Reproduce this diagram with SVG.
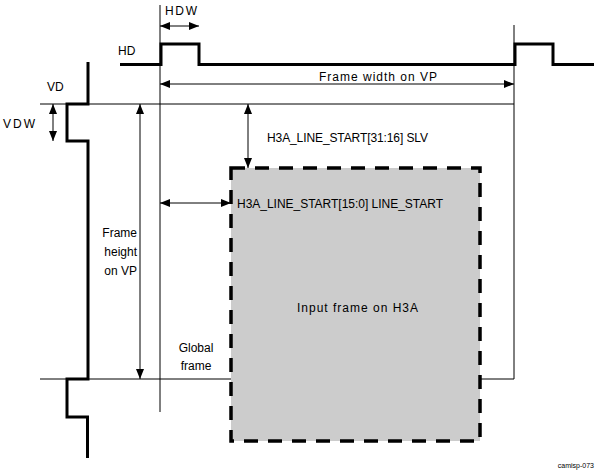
<svg xmlns="http://www.w3.org/2000/svg" width="597" height="473" viewBox="0 0 597 473">
<defs>
<style>
text{font-family:"Liberation Sans",Arial,sans-serif;font-size:12px;fill:#000}
.thin{stroke:#000;stroke-width:1;fill:none}
.sig{stroke:#000;stroke-width:3;fill:none;stroke-linejoin:miter}
.dim{stroke:#000;stroke-width:1;fill:none;marker-start:url(#ah);marker-end:url(#ah)}
.box{fill:#cccccc;stroke:#000;stroke-width:3.5;stroke-dasharray:14 10}
</style>
<marker id="ah" viewBox="0 0 10 8" refX="10" refY="4" markerWidth="10" markerHeight="8" markerUnits="userSpaceOnUse" orient="auto-start-reverse">
<path d="M0,0 L10,4 L0,8 Z" fill="#000"/>
</marker>
</defs>
<rect width="597" height="473" fill="#fff"/>
<g id="input-frame">
<rect class="box" x="231" y="168" width="249" height="273"/>
<text x="297" y="312" textLength="121" lengthAdjust="spacing">Input frame on H3A</text>
</g>
<g id="guides">
<line class="thin" x1="160" y1="5" x2="160" y2="412"/>
<line class="thin" x1="514" y1="25" x2="514" y2="379"/>
<line class="thin" x1="40" y1="104" x2="514" y2="104"/>
<line class="thin" x1="40" y1="379" x2="231" y2="379"/>
<line class="thin" x1="480" y1="379" x2="514" y2="379"/>
</g>
<g id="hd-signal">
<path class="sig" d="M120 64.5 H161 V44 H199 V64.5 H515 V44 H553 V64.5 H594"/>
<text x="118" y="55">HD</text>
</g>
<g id="vd-signal">
<path class="sig" d="M88 62 V104 H67 V141 H88 V379 H67 V417 H87.5 V458"/>
<text x="47" y="91">VD</text>
</g>
<g id="connectors">
<line class="dim" x1="160" y1="26" x2="199" y2="26"/>
<line class="dim" x1="160" y1="84" x2="514" y2="84"/>
<line class="dim" x1="53" y1="104" x2="53" y2="141"/>
<line class="dim" x1="140" y1="104" x2="140" y2="379"/>
<line class="dim" x1="248" y1="104" x2="248" y2="168"/>
<line class="dim" x1="160" y1="203" x2="231" y2="203"/>
</g>
<g id="labels">
<text x="165" y="15" textLength="32" lengthAdjust="spacing">HDW</text>
<text x="3" y="128" textLength="32" lengthAdjust="spacing">VDW</text>
<text x="319" y="81" textLength="118" lengthAdjust="spacing">Frame width on VP</text>
<text x="267" y="142" textLength="161" lengthAdjust="spacing">H3A_LINE_START[31:16] SLV</text>
<text x="237" y="208" textLength="206" lengthAdjust="spacing">H3A_LINE_START[15:0] LINE_START</text>
<text x="137" y="237" text-anchor="end">Frame</text>
<text x="137" y="256" text-anchor="end">height</text>
<text x="137" y="275" text-anchor="end">on VP</text>
<text x="196" y="352" text-anchor="middle">Global</text>
<text x="196" y="370" text-anchor="middle">frame</text>
<text x="594" y="468" text-anchor="end" style="font-size:7px">camisp-073</text>
</g>
</svg>
